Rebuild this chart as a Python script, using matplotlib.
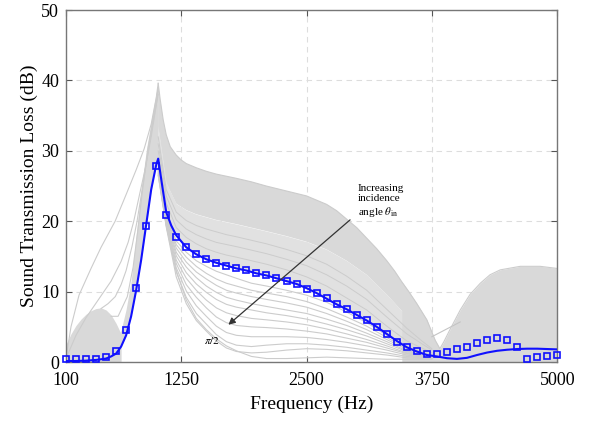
import numpy as np
import matplotlib
matplotlib.use("Agg")
import matplotlib.pyplot as plt

plt.rcParams['font.family'] = ['Liberation Serif', 'DejaVu Serif']
plt.rcParams['mathtext.fontset'] = 'stix'

# ---------------- data ----------------
# averaged curve (blue line)
blue_f = [100, 200, 300, 400, 500, 550, 600, 650, 700, 750, 800, 850, 900, 950, 1000, 1020,
          1050, 1100, 1150, 1200, 1300, 1400, 1500, 1600, 1700, 1800, 1900, 2000, 2100, 2200,
          2300, 2400, 2500, 2600, 2700, 2800, 2900, 3000, 3100, 3200, 3300, 3400, 3500, 3600,
          3700, 3800, 3900, 4000, 4100, 4200, 4300, 4400, 4500, 4600, 4700, 4800, 4900, 5000]
blue_tl = [0.15, 0.15, 0.2, 0.3, 0.5, 0.8, 1.2, 2.2, 3.8, 6.5, 10.2, 14.5, 19.5, 24.5, 28.0, 28.9,
           26.0, 21.3, 19.4, 18.0, 16.3, 15.3, 14.6, 14.1, 13.7, 13.3, 13.0, 12.6, 12.3, 11.9,
           11.5, 11.1, 10.5, 9.8, 9.0, 8.2, 7.5, 6.7, 5.9, 5.0, 4.0, 3.0, 2.1, 1.5,
           1.0, 0.8, 0.55, 0.45, 0.6, 1.0, 1.35, 1.6, 1.75, 1.85, 1.9, 1.9, 1.85, 1.8]

# square markers
mark_f = [100, 200, 300, 400, 500, 600, 700, 800, 900, 1000,
          1100, 1200, 1300, 1400, 1500, 1600, 1700, 1800, 1900, 2000,
          2100, 2200, 2300, 2400, 2500, 2600, 2700, 2800, 2900, 3000,
          3100, 3200, 3300, 3400, 3500, 3600, 3700, 3800, 3900, 4000,
          4100, 4200, 4300, 4400, 4500, 4600, 4700, 4800, 4900, 5000]
mark_tl = [0.43, 0.45, 0.5, 0.5, 0.7, 1.6, 4.6, 10.5, 19.3, 27.8,
           20.9, 17.8, 16.3, 15.3, 14.6, 14.1, 13.7, 13.4, 13.1, 12.6,
           12.3, 11.9, 11.5, 11.1, 10.4, 9.8, 9.1, 8.2, 7.5, 6.7,
           6.0, 5.0, 4.0, 2.9, 2.1, 1.6, 1.2, 1.2, 1.5, 1.9,
           2.2, 2.7, 3.1, 3.4, 3.2, 2.1, 0.5, 0.7, 0.8, 1.0]

# upper envelope of the gray family (normal incidence)
top_f = [1020, 1040, 1070, 1100, 1140, 1200, 1250, 1300, 1400, 1500, 1600, 1700, 1800,
         1950, 2100, 2300, 2500, 2700, 2800, 2900, 3000, 3100, 3200, 3300, 3380, 3450,
         3520, 3600, 3700, 3783, 3830, 3870, 3930, 4033, 4130, 4233, 4330, 4432, 4632,
         4830, 5000]
top_tl = [39.6, 37.3, 34.4, 32.3, 30.6, 29.4, 28.7, 28.2, 27.6, 27.1, 26.7, 26.4, 26.1,
          25.6, 25.0, 24.3, 23.6, 22.4, 21.5, 20.3, 19.1, 17.6, 16.1, 14.4, 12.9, 11.4,
          10.0, 8.3, 6.0, 3.1, 1.9, 2.9, 4.6, 7.4, 9.6, 11.2, 12.4, 13.1, 13.6,
          13.6, 13.3]

# gray family right of the resonance (one curve per incidence angle)
fam_f = [1020, 1100, 1200, 1300, 1400, 1500, 1600, 1700, 1800, 1950,
         2100, 2300, 2500, 2700, 2900, 3100, 3300, 3500, 3650, 3750]
dense_right = [33.5, 25.5, 22.5, 21.6, 21.0, 20.6, 20.2, 19.9, 19.6, 19.1,
               18.6, 17.9, 17.1, 16.0, 14.4, 12.4, 9.6, 6.5, 4.0, 2.4]
band_right = [28.9, 21.2, 17.8, 16.3, 15.3, 14.6, 14.1, 13.7, 13.4, 12.8,
              12.3, 11.4, 10.4, 9.1, 7.5, 6.0, 4.0, 2.2, 1.5, 1.0]
mid_curves = [
    [32.0, 24.5, 21.3, 20.1, 19.4, 18.9, 18.5, 18.1, 17.8, 17.3, 16.8, 16.0, 15.1, 13.9, 12.2, 10.2, 7.5, 4.8, 3.0, 1.9],
    [31.0, 23.6, 20.2, 18.9, 18.1, 17.5, 17.0, 16.7, 16.4, 15.9, 15.4, 14.6, 13.7, 12.4, 10.8, 8.9, 6.4, 4.0, 2.6, 1.7],
    [30.0, 22.6, 19.1, 17.7, 16.8, 16.1, 15.6, 15.2, 14.9, 14.4, 13.9, 13.1, 12.1, 10.8, 9.1, 7.4, 5.1, 3.0, 2.0, 1.3],
]
low_curves = [
    [28.5, 21.0, 17.2, 15.6, 14.4, 13.6, 12.9, 12.4, 11.9, 11.2, 10.8, 10.2, 9.5, 8.5, 7.1, 5.6, 3.8, 2.1, 1.4, 1.0],
    [28.2, 20.8, 16.7, 14.9, 13.6, 12.6, 11.8, 11.2, 10.8, 10.2, 9.8, 9.3, 8.6, 7.6, 6.4, 5.1, 3.5, 1.9, 1.3, 0.9],
    [28.0, 20.6, 16.2, 14.2, 12.8, 11.8, 10.9, 10.2, 9.8, 9.3, 8.9, 8.4, 7.8, 6.9, 5.8, 4.6, 3.2, 1.8, 1.2, 0.9],
    [27.8, 20.4, 15.6, 13.5, 12.0, 10.8, 9.9, 9.2, 8.8, 8.3, 7.9, 7.4, 6.9, 6.1, 5.2, 4.1, 2.9, 1.6, 1.1, 0.8],
    [27.6, 20.2, 15.1, 12.7, 11.1, 9.9, 8.9, 8.2, 7.8, 7.4, 7.0, 6.6, 6.1, 5.4, 4.6, 3.7, 2.6, 1.5, 1.0, 0.8],
    [27.4, 20.0, 14.5, 11.9, 10.2, 8.8, 7.7, 7.0, 6.6, 6.2, 6.0, 5.7, 5.3, 4.7, 4.0, 3.2, 2.3, 1.3, 0.9, 0.7],
    [27.2, 19.8, 14.0, 11.0, 9.2, 7.7, 6.4, 5.6, 5.2, 5.0, 4.9, 4.7, 4.4, 4.0, 3.4, 2.8, 2.0, 1.2, 0.8, 0.7],
    [27.0, 19.6, 13.4, 10.1, 8.0, 6.5, 5.1, 4.2, 3.8, 3.6, 3.6, 3.6, 3.5, 3.2, 2.8, 2.3, 1.7, 1.0, 0.7, 0.6],
    [26.8, 19.4, 12.8, 9.2, 6.9, 5.4, 3.9, 2.9, 2.4, 2.2, 2.4, 2.6, 2.6, 2.4, 2.1, 1.7, 1.3, 0.8, 0.6, 0.5],
    [26.6, 19.2, 12.1, 8.3, 5.9, 4.4, 3.0, 2.0, 1.5, 1.3, 1.4, 1.7, 1.9, 1.8, 1.6, 1.3, 1.0, 0.6, 0.5, 0.5],
    [26.5, 19.5, 13.0, 8.8, 6.2, 4.6, 3.3, 2.3, 1.6, 0.8, 0.5, 0.5, 0.6, 0.7, 0.6, 0.5, 0.4, 0.4, 0.4, 0.4],
]

# second lobe, filled down to the axis
lobe_f = [3450, 3520, 3600, 3700, 3783, 3830, 3870, 3930, 4033, 4130, 4233, 4330, 4432,
          4632, 4830, 5000]
lobe_top = [11.4, 10.0, 8.3, 6.0, 3.1, 1.9, 2.9, 4.6, 7.4, 9.6, 11.2, 12.4, 13.1,
            13.6, 13.6, 13.3]
lobe_line_f = [3750, 4033]
lobe_line_tl = [3.6, 5.7]

# left of the resonance
hump_f = [100, 150, 200, 250, 300, 350, 400, 450, 500, 550, 600, 650]
hump_tl = [2.5, 4.0, 5.2, 6.1, 6.8, 7.3, 7.6, 7.7, 7.4, 6.7, 5.5, 4.0]
left_f = [600, 650, 700, 750, 800, 850, 900, 950, 1000, 1020]
left_edge = [3.0, 4.5, 7.5, 11.5, 18.0, 24.5, 30.0, 34.3, 38.3, 39.6]
left_blue = [1.2, 2.2, 3.8, 6.5, 10.2, 14.5, 19.5, 24.5, 28.0, 28.9]
sparse = [
    ([100, 150, 230, 350, 450, 590, 700, 800, 880, 950, 1000, 1020],
     [0.5, 5.0, 9.5, 13.3, 16.3, 20.0, 23.8, 27.3, 30.3, 33.8, 37.5, 39.6]),
    ([100, 200, 300, 430, 550, 650, 720, 776, 840, 891, 950, 1000, 1020],
     [0.5, 3.8, 6.3, 9.0, 11.5, 14.3, 17.0, 20.0, 24.2, 27.5, 32.0, 36.5, 39.0]),
    ([450, 520, 592, 650, 700, 760, 809, 860, 920, 980, 1020],
     [7.6, 8.3, 9.3, 11.0, 13.0, 16.5, 20.0, 24.5, 30.0, 35.5, 38.5]),
    ([550, 620, 712, 770, 815, 860, 920, 1020],
     [6.5, 6.5, 9.3, 13.5, 18.5, 24.0, 30.5, 38.0]),
]

x_ticks = [100, 1250, 2500, 3750, 5000]
y_ticks = [0, 10, 20, 30, 40, 50]

# ---------------- figure ----------------
fig = plt.figure(figsize=(5.89, 4.21), dpi=100)
ax = fig.add_axes([0.112, 0.140, 0.834, 0.836])

gfill = '#d9d9d9'
gfill2 = '#e1e1e1'
gline = '#cccccc'

ax.fill_between(hump_f, 0, hump_tl, color=gfill, lw=0, zorder=1)
ax.fill_between(left_f, left_blue, left_edge, color=gfill, lw=0, zorder=1)
# dense upper band: between envelope and dense_right (polygon built from the arrays)
n_top = top_f.index(3783) + 1
poly_x = list(top_f[:n_top]) + list(fam_f[::-1])
poly_y = list(top_tl[:n_top]) + list(dense_right[::-1])
ax.fill(poly_x, poly_y, color=gfill, lw=0, zorder=1)
ax.fill_between(fam_f, band_right, dense_right, color=gfill2, lw=0, zorder=1)
ax.fill_between(lobe_f, 0, lobe_top, color=gfill, lw=0, zorder=1)
ax.plot(top_f, top_tl, color=gline, lw=0.8, zorder=2)
for c in mid_curves:
    ax.plot(fam_f, c, color=gline, lw=0.7, zorder=2)
for c in low_curves:
    ax.plot(fam_f, c, color=gline, lw=0.8, zorder=2)
for fx, fy in sparse:
    ax.plot(fx, fy, color=gline, lw=0.8, zorder=2)
ax.plot(lobe_line_f, lobe_line_tl, color='#c4c4c4', lw=0.8, zorder=2)

ax.plot(blue_f, blue_tl, color='#1010ff', lw=1.5, zorder=4)
ax.plot(mark_f, mark_tl, linestyle='none', marker='s', markersize=3.8,
        markerfacecolor='none', markeredgecolor='#1010ff', markeredgewidth=1.2,
        zorder=5, clip_on=False)

# annotation
ax.annotate('', xy=(1720, 5.3), xytext=(2934, 20.2),
            arrowprops=dict(arrowstyle='-|>', color='#333333', lw=0.9,
                            mutation_scale=10, shrinkA=0, shrinkB=0), zorder=6)
ax.text(3010, 25.3, 'Increasing\nincidence\nangle $\\theta_{\\mathrm{in}}$',
        fontsize=8, ha='left', va='top', linespacing=1.15, zorder=6)
ax.text(1560, 3.1, '$\\pi/2$', fontsize=8, ha='center', va='center', zorder=6)

ax.set_xlim(100, 5000)
ax.set_ylim(0, 50)
ax.set_xticks(x_ticks)
ax.set_yticks(y_ticks)
ax.set_xticklabels([str(v) for v in x_ticks])
ax.set_yticklabels([str(v) for v in y_ticks])
ax.tick_params(direction='in', top=True, right=True, labelsize=13, length=4,
               color='#555555')
ax.tick_params(axis='x', pad=7)
ax.tick_params(axis='y', pad=5)
ax.grid(True, linestyle=(0, (5, 4)), color='#dddddd', lw=0.8, zorder=0)
ax.set_axisbelow(True)
for s in ax.spines.values():
    s.set_color('#777777')
    s.set_linewidth(1.0)

ax.set_xlabel('Frequency (Hz)', fontsize=14, labelpad=5)
ax.set_ylabel('Sound Transmission Loss (dB)', fontsize=14, labelpad=2)

fig.savefig('out.png', dpi=100)
